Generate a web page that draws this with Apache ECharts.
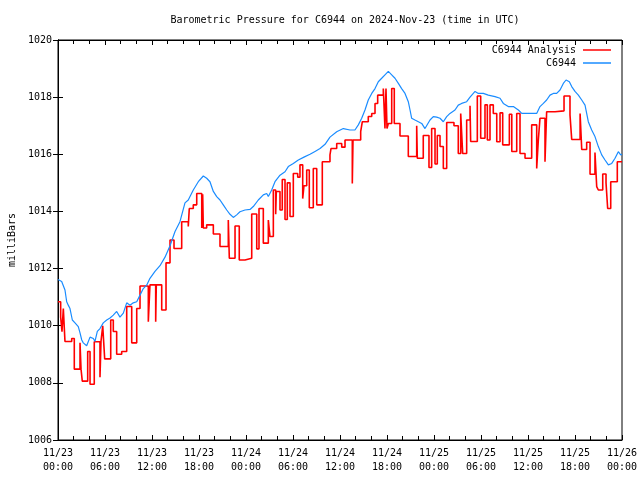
<!DOCTYPE html>
<html>
<head>
<meta charset="utf-8">
<script src="https://cdn.jsdelivr.net/npm/echarts@6/dist/echarts.min.js"></script>
<style>html,body{margin:0;padding:0;background:#fff}#c{width:640px;height:480px}</style>
</head>
<body>
<div id="c"></div>
<script>
const chartTitle = 'Barometric Pressure for C6944 on 2024-Nov-23 (time in UTC)';
const yName = 'milliBars';
const seriesNames = ['C6944 Analysis', 'C6944'];
const xTickLabels = ['11/23\n00:00','11/23\n06:00','11/23\n12:00','11/23\n18:00','11/24\n00:00','11/24\n06:00','11/24\n12:00','11/24\n18:00','11/25\n00:00','11/25\n06:00','11/25\n12:00','11/25\n18:00','11/26\n00:00'];

// Analysis (step series): hours since 11/23 00:00 UTC, and pressure in mb
const analysisHours = [0.0,0.34,0.51,0.68,0.89,1.75,2.08,2.81,2.94,3.10,3.79,4.09,4.63,5.36,5.49,5.71,5.96,6.73,7.06,7.49,8.13,8.77,9.41,10.05,10.47,11.53,11.74,12.47,12.55,13.24,13.79,14.30,14.81,15.79,16.63,16.76,17.27,17.71,18.35,18.47,18.55,18.98,19.83,20.68,21.74,21.87,22.60,23.14,23.87,24.73,25.37,25.66,26.21,26.85,27.06,27.49,27.79,27.87,28.34,28.63,28.98,29.27,29.62,30.04,30.60,30.89,31.24,31.40,31.75,32.08,32.59,33.03,33.74,34.72,34.85,35.58,36.22,36.64,37.57,37.66,38.64,38.85,39.61,40.05,40.47,40.81,41.53,41.74,41.87,42.00,42.17,42.60,42.93,43.66,44.72,45.79,45.87,46.63,47.36,47.70,48.13,48.42,48.77,49.19,49.62,50.55,51.10,51.41,51.66,52.17,52.60,52.68,53.53,53.96,54.51,54.81,55.15,55.57,56.01,56.43,56.77,57.62,57.93,58.56,58.98,59.62,60.47,61.11,61.32,61.53,62.17,62.38,63.45,64.60,65.36,65.58,66.65,66.86,67.49,67.92,68.55,68.77,68.98,69.54,69.96,70.17,70.56,71.40,72.0];
const analysisValues = [1010.84,1010.3,1009.79,1010.6,1009.45,1009.55,1008.48,1009.4,1008.48,1008.06,1009.1,1007.95,1009.44,1008.2,1009.45,1010.0,1008.84,1010.2,1009.8,1009.0,1009.1,1010.67,1009.4,1010.6,1011.39,1010.14,1011.43,1010.14,1011.43,1010.55,1012.2,1013.0,1012.7,1013.64,1013.47,1014.1,1014.23,1014.63,1013.42,1014.6,1013.42,1013.53,1013.21,1012.77,1013.7,1012.36,1013.49,1012.3,1012.36,1013.91,1012.69,1014.1,1012.89,1013.7,1013.12,1014.75,1013.9,1014.7,1014.05,1015.12,1013.72,1015.0,1013.82,1015.33,1015.2,1015.63,1014.45,1014.9,1015.45,1014.13,1015.5,1014.23,1015.74,1015.98,1016.2,1016.38,1016.25,1016.5,1014.98,1016.5,1016.79,1017.14,1017.32,1017.43,1017.78,1018.07,1018.3,1016.9,1018.3,1016.9,1017.08,1018.3,1017.08,1016.64,1015.92,1017.0,1015.86,1016.66,1015.54,1016.9,1015.66,1016.66,1016.27,1015.5,1017.11,1017.0,1016.03,1017.43,1016.03,1017.2,1017.7,1016.45,1018.04,1016.56,1017.73,1016.5,1017.73,1017.43,1016.44,1017.45,1016.33,1017.4,1016.1,1017.43,1016.03,1015.86,1017.03,1015.5,1016.5,1017.26,1015.74,1017.49,1017.52,1018.04,1017.38,1016.52,1017.43,1016.17,1016.42,1015.3,1016.06,1014.87,1014.75,1015.31,1015.0,1014.1,1015.04,1015.74,1015.74];

// Observations
const obsHours = [0.0,0.47,0.89,1.11,1.31,1.53,1.83,2.17,2.59,2.81,3.03,3.23,3.66,4.09,4.51,4.72,5.02,5.36,5.78,6.22,6.64,7.06,7.49,7.91,8.34,8.77,9.19,9.61,10.05,10.47,10.89,11.32,11.74,12.38,13.02,13.66,14.30,14.94,15.57,16.21,16.63,17.27,17.91,18.55,18.77,18.98,19.40,19.83,20.26,20.68,21.10,21.54,21.96,22.38,22.81,23.23,23.87,24.51,24.93,25.57,26.21,26.64,26.85,27.28,27.70,28.34,28.98,29.40,30.04,30.68,31.40,32.17,32.81,33.45,34.09,34.72,35.58,36.42,37.28,37.91,38.34,38.77,39.19,39.61,40.05,40.47,40.89,41.32,41.74,42.17,42.60,43.02,43.45,43.87,44.30,44.72,44.94,45.15,45.57,46.00,46.43,46.85,47.07,47.49,47.91,48.34,48.77,49.19,49.62,50.04,50.68,51.10,51.53,52.17,52.60,53.24,53.66,54.30,54.93,55.79,56.43,56.85,57.48,58.13,58.77,59.20,59.83,60.47,61.11,61.53,61.96,62.38,62.81,63.23,63.66,64.09,64.51,64.86,65.28,65.58,66.00,66.43,66.86,67.28,67.49,67.70,68.13,68.55,68.98,69.41,69.83,70.26,70.69,71.11,71.53,71.83,72.0];
const obsValues = [1011.62,1011.55,1011.25,1010.84,1010.72,1010.6,1010.2,1010.1,1009.97,1009.75,1009.5,1009.4,1009.3,1009.6,1009.55,1009.45,1009.8,1009.9,1010.1,1010.2,1010.27,1010.37,1010.5,1010.3,1010.44,1010.8,1010.72,1010.8,1010.84,1011.07,1011.3,1011.42,1011.66,1011.9,1012.1,1012.4,1012.8,1013.3,1013.64,1014.3,1014.4,1014.75,1015.04,1015.24,1015.27,1015.16,1015.04,1014.7,1014.52,1014.4,1014.23,1014.05,1013.9,1013.79,1013.88,1013.99,1014.05,1014.07,1014.17,1014.4,1014.58,1014.63,1014.52,1014.75,1015.04,1015.27,1015.39,1015.57,1015.68,1015.8,1015.9,1016.0,1016.1,1016.2,1016.35,1016.6,1016.79,1016.9,1016.85,1016.85,1017.03,1017.26,1017.55,1017.9,1018.13,1018.3,1018.54,1018.66,1018.78,1018.9,1018.78,1018.66,1018.48,1018.3,1018.13,1017.84,1017.55,1017.26,1017.2,1017.14,1017.08,1016.9,1016.85,1017.2,1017.32,1017.3,1017.26,1017.14,1017.32,1017.43,1017.55,1017.72,1017.78,1017.84,1018.0,1018.2,1018.13,1018.13,1018.07,1018.02,1017.96,1017.78,1017.67,1017.67,1017.55,1017.43,1017.43,1017.43,1017.43,1017.67,1017.78,1017.9,1018.07,1018.13,1018.13,1018.25,1018.48,1018.6,1018.54,1018.37,1018.2,1018.07,1017.9,1017.72,1017.43,1017.14,1016.85,1016.62,1016.27,1015.98,1015.8,1015.63,1015.68,1015.86,1016.09,1015.98,1016.0];

const FONT = 'DejaVu Sans Mono';
const zip = (a, b) => a.map((x, i) => [x, b[i]]);

const chart = echarts.init(document.getElementById('c'), null, {renderer: 'canvas'});
const tickCommon = {show: true, inside: true, length: 5, lineStyle: {color: '#000', width: 1}};
chart.setOption({
  animation: false,
  backgroundColor: '#fff',
  title: {
    text: chartTitle, left: 340, top: 10, textAlign: 'center',
    textStyle: {fontFamily: FONT, fontSize: 10, fontWeight: 'normal', color: '#000'}
  },
  legend: {
    orient: 'vertical', right: 24, top: 39, align: 'right', itemGap: 1,
    itemWidth: 28, itemHeight: 1.5,
    formatter: n => n.padStart(14, ' '),
    textStyle: {fontFamily: FONT, fontSize: 10, color: '#000', lineHeight: 12, padding: [0, 2, 0, 0]},
    data: seriesNames.map(n => ({name: n, icon: 'rect'}))
  },
  grid: {left: 58, right: 18, top: 40, bottom: 40, show: true, borderColor: '#000', borderWidth: 1, containLabel: false, outerBoundsMode: 'none'},
  xAxis: [{
    type: 'value', min: 0, max: 72, interval: 6, position: 'bottom',
    axisLine: {show: true, lineStyle: {color: '#000', width: 1}},
    axisTick: tickCommon,
    minorTick: {show: true, splitNumber: 3, length: 4, lineStyle: {color: '#000', width: 1}},
    splitLine: {show: false},
    axisLabel: {
      show: true, margin: 6, fontFamily: FONT, fontSize: 10, color: '#000', lineHeight: 14,
      showMinLabel: true, showMaxLabel: true,
      formatter: v => xTickLabels[Math.round(v / 6)]
    }
  }, {
    type: 'value', min: 0, max: 72, interval: 6, position: 'top',
    axisLine: {show: true, lineStyle: {color: '#000', width: 1}},
    axisTick: tickCommon,
    minorTick: {show: true, splitNumber: 3, length: 4, lineStyle: {color: '#000', width: 1}},
    splitLine: {show: false}, axisLabel: {show: false}
  }],
  yAxis: [{
    type: 'value', min: 1006, max: 1020, interval: 2, position: 'left',
    name: yName, nameLocation: 'middle', nameRotate: 90, nameGap: 40,
    nameTextStyle: {fontFamily: FONT, fontSize: 10, color: '#000'},
    axisLine: {show: true, lineStyle: {color: '#000', width: 1}},
    axisTick: tickCommon, splitLine: {show: false},
    axisLabel: {margin: 6, fontFamily: FONT, fontSize: 10, color: '#000', formatter: v => String(v)}
  }, {
    type: 'value', min: 1006, max: 1020, interval: 2, position: 'right',
    axisLine: {show: true, lineStyle: {color: '#000', width: 1}},
    axisTick: tickCommon, splitLine: {show: false}, axisLabel: {show: false}
  }],
  series: [{
    name: seriesNames[0], type: 'line', step: 'end', showSymbol: false, symbol: 'none',
    xAxisIndex: 0, yAxisIndex: 0,
    itemStyle: {color: '#ff0000'},
    lineStyle: {color: '#ff0000', width: 1.6},
    data: zip(analysisHours, analysisValues)
  }, {
    name: seriesNames[1], type: 'line', showSymbol: false, symbol: 'none',
    xAxisIndex: 0, yAxisIndex: 0,
    itemStyle: {color: '#1a8cff'},
    lineStyle: {color: '#1a8cff', width: 1.2},
    data: zip(obsHours, obsValues)
  }]
});
</script>
</body>
</html>
